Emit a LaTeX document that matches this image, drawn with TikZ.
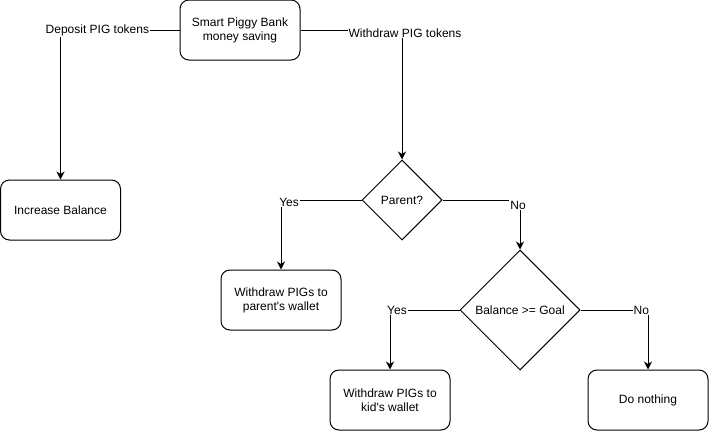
\documentclass[tikz,border=0pt]{standalone}
\usepackage{fontspec}
\setmainfont{Liberation Sans}
\usepackage{tikz}
\usetikzlibrary{positioning,shapes.geometric,arrows.meta}
\tikzset{
  stepbox/.style={draw=black, fill=white, rounded corners=9pt, line width=1pt,
                  minimum width=120pt, minimum height=60pt, align=center,
                  font=\fontsize{12}{14}\selectfont},
  decision/.style={draw=black, fill=white, diamond, shape aspect=1, inner sep=0pt,
                   line width=1pt, align=center, font=\fontsize{12}{14}\selectfont},
  edgelabel/.style={fill=white, inner sep=1pt, font=\fontsize{12}{14}\selectfont},
  arr/.style={-{Stealth[length=8pt,width=8pt,inset=2.5pt]}, line width=1pt, black}
}

\begin{document}
\begin{tikzpicture}[x=1pt,y=-1pt]
  \useasboundingbox (0,0) rectangle (709,431);

  % Start
  \node[stepbox] (bank) at (240,30) {Smart Piggy Bank\\money saving};

  % Deposit branch
  \node[stepbox] (increase) at (60.5,210) {Increase Balance};
  \draw[arr] (bank.west) -| node[edgelabel, pos=0.345] {Deposit PIG tokens} (increase.north);

  % Withdraw branch
  \node[decision, minimum size=80pt] (parent) at (402,200) {Parent?};
  \draw[arr] (bank.east) -| node[edgelabel, pos=0.5, xshift=3pt, yshift=-3pt] {Withdraw PIG tokens} (parent.north);

  \node[stepbox] (parentwallet) at (281,300) {Withdraw PIGs to\\parent\textquotesingle s wallet};
  \draw[arr] (parent.west) -| node[edgelabel, pos=0.45, yshift=-2pt] {Yes} (parentwallet.north);

  \node[decision, minimum size=120pt] (goal) at (520,310) {Balance >= Goal};
  \draw[arr] (parent.east) -| node[edgelabel, pos=0.5, xshift=-2pt, yshift=-5pt] {No} (goal.north);

  % Goal check
  \node[stepbox] (kidwallet) at (390,400) {Withdraw PIGs to\\kid\textquotesingle s wallet};
  \draw[arr] (goal.west) -| node[edgelabel, pos=0.45] {Yes} (kidwallet.north);

  \node[stepbox] (nothing) at (648,400) {Do nothing};
  \draw[arr] (goal.east) -| node[edgelabel, pos=0.45] {No} (nothing.north);
\end{tikzpicture}
\end{document}
